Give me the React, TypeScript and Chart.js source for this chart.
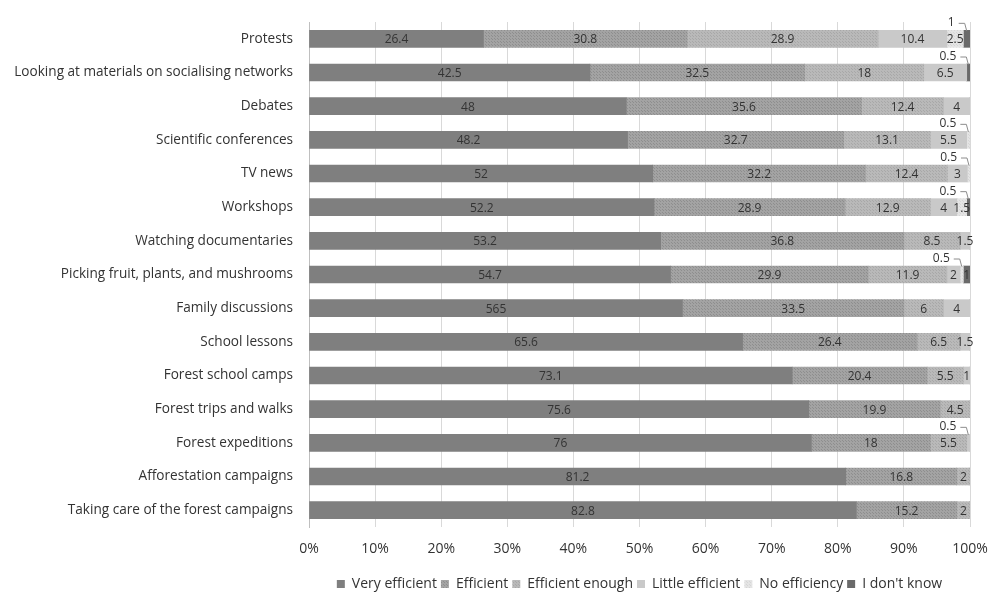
import React, { useEffect, useRef } from "react";
import { Chart, registerables } from "chart.js";

Chart.register(...registerables);

const categories = [
  "Protests",
  "Looking at materials on socialising networks",
  "Debates",
  "Scientific conferences",
  "TV news",
  "Workshops",
  "Watching documentaries",
  "Picking fruit, plants, and mushrooms",
  "Family discussions",
  "School lessons",
  "Forest school camps",
  "Forest trips and walks",
  "Forest expeditions",
  "Afforestation campaigns",
  "Taking care of the forest campaigns",
];

const veryEfficient = [26.4, 42.5, 48, 48.2, 52, 52.2, 53.2, 54.7, 56.5, 65.6, 73.1, 75.6, 76, 81.2, 82.8];
const efficient = [30.8, 32.5, 35.6, 32.7, 32.2, 28.9, 36.8, 29.9, 33.5, 26.4, 20.4, 19.9, 18, 16.8, 15.2];
const efficientEnough = [28.9, 18, 12.4, 13.1, 12.4, 12.9, 8.5, 11.9, 6, 6.5, 5.5, 4.5, 5.5, 2, 2];
const littleEfficient = [10.4, 6.5, 4, 5.5, 3, 4, 1.5, 2, 4, 1.5, 1, 0, 0.5, 0, 0];
const noEfficiency = [2.5, 0, 0, 0.5, 0.5, 1.5, 0, 0.5, 0, 0, 0, 0, 0, 0, 0];
const dontKnow = [1, 0.5, 0, 0, 0, 0.5, 0, 1, 0, 0, 0, 0, 0, 0, 0];

const seriesNames = ["Very efficient", "Efficient", "Efficient enough", "Little efficient", "No efficiency", "I don't know"];
const xTicks = [0, 10, 20, 30, 40, 50, 60, 70, 80, 90, 100];

// label text exceptions as printed in the source figure: [row, series, text]
const labelOverrides: [number, number, string][] = [[8, 0, "565"]];
// labels drawn above the bar with a leader line: [row, series]
const callouts: [number, number][] = [[0, 5], [1, 5], [3, 4], [4, 4], [5, 5], [7, 4], [12, 3]];

function makePattern(base: string, dot: string): CanvasPattern | string {
  const c = document.createElement("canvas");
  c.width = 3;
  c.height = 3;
  const g = c.getContext("2d");
  if (!g) return base;
  g.fillStyle = base;
  g.fillRect(0, 0, 3, 3);
  g.fillStyle = dot;
  g.fillRect(0, 0, 1, 1);
  g.fillRect(2, 2, 1, 1);
  const ctx = document.createElement("canvas").getContext("2d");
  return (ctx && ctx.createPattern(c, "repeat")) || base;
}

const FONT = "'Open Sans', sans-serif";

export default function App() {
  const ref = useRef<HTMLCanvasElement | null>(null);

  useEffect(() => {
    document.body.style.margin = "0";
    const canvas = ref.current;
    if (!canvas) return;

    const colors: (string | CanvasPattern)[] = [
      "#7f7f7f",
      makePattern("#a3a3a3", "#8e8e8e"),
      makePattern("#b9b9b9", "#a8a8a8"),
      "#c9c9c9",
      makePattern("#e4e4e4", "#d6d6d6"),
      "#6a6a6a",
    ];
    const values = [veryEfficient, efficient, efficientEnough, littleEfficient, noEfficiency, dontKnow];

    const labelPlugin = {
      id: "segLabels",
      afterLayout(chart: any) {
        const lg = chart.legend;
        if (lg) {
          lg.top += 8;
          lg.bottom += 8;
        }
      },
      afterDatasetsDraw(chart: any) {
        const ctx = chart.ctx;
        ctx.save();
        ctx.font = `12px ${FONT}`;
        ctx.fillStyle = "#333333";
        ctx.textBaseline = "middle";
        chart.data.datasets.forEach((ds: any, di: number) => {
          const meta = chart.getDatasetMeta(di);
          meta.data.forEach((el: any, ri: number) => {
            const v = ds.data[ri];
            if (!v) return;
            const ov = labelOverrides.find((o) => o[0] === ri && o[1] === di);
            const text = ov ? ov[2] : String(v);
            const left = Math.min(el.x, el.base);
            const right = Math.max(el.x, el.base);
            const cx = (left + right) / 2;
            const isCallout = callouts.some((c) => c[0] === ri && c[1] === di);
            if (isCallout) {
              const y = el.y - 16;
              const tx = cx - 12;
              ctx.textAlign = "right";
              ctx.fillText(text, tx, y);
              ctx.strokeStyle = "#8c8c8c";
              ctx.lineWidth = 1;
              ctx.beginPath();
              ctx.moveTo(tx + 4, y + 0.5);
              ctx.lineTo(cx - 2, y + 0.5);
              ctx.lineTo(cx, el.y - 8);
              ctx.stroke();
            } else {
              ctx.textAlign = "center";
              ctx.fillText(text, cx, el.y + 1);
            }
          });
        });
        ctx.restore();
      },
    };

    const chart = new Chart(canvas, {
      type: "bar",
      data: {
        labels: categories,
        datasets: values.map((d, i) => ({
          label: seriesNames[i],
          data: d,
          backgroundColor: colors[i],
          borderWidth: 0,
          barThickness: 17,
          categoryPercentage: 1,
        })),
      },
      options: {
        indexAxis: "y",
        responsive: false,
        animation: false,
        devicePixelRatio: 1,
        layout: { padding: { top: 22, right: 22, left: 0, bottom: 0 } },
        scales: {
          x: {
            stacked: true,
            min: 0,
            max: 100,
            afterBuildTicks: (s: any) => {
              s.ticks = xTicks.map((v) => ({ value: v }));
            },
            afterFit: (s: any) => {
              s.height = 38;
              s.paddingRight = 0;
              s.paddingLeft = 0;
            },
            ticks: {
              callback: (v: any) => v + "%",
              font: { family: FONT, size: 14 },
              color: "#333333",
              padding: 14,
              maxRotation: 0,
            },
            grid: { color: "#d9d9d9", drawTicks: false },
            border: { display: false },
          },
          y: {
            stacked: true,
            afterFit: (s: any) => {
              s.width = 309;
              s.paddingTop = 0;
              s.paddingBottom = 0;
            },
            ticks: {
              font: { family: FONT, size: 13.6 },
              color: "#333333",
              padding: 16,
              autoSkip: false,
            },
            grid: { display: false, drawTicks: false },
            border: { display: true, color: "#bfbfbf" },
          },
        },
        plugins: {
          legend: {
            position: "bottom",
            fullSize: false,
            labels: {
              boxWidth: 8,
              boxHeight: 8,
              padding: 4,
              font: { family: FONT, size: 14 },
              color: "#333333",
            },
          },
          tooltip: { enabled: false },
        },
      },
      plugins: [labelPlugin],
    } as any);

    return () => chart.destroy();
  }, []);

  return <canvas ref={ref} width={992} height={593} style={{ display: "block" }} />;
}
